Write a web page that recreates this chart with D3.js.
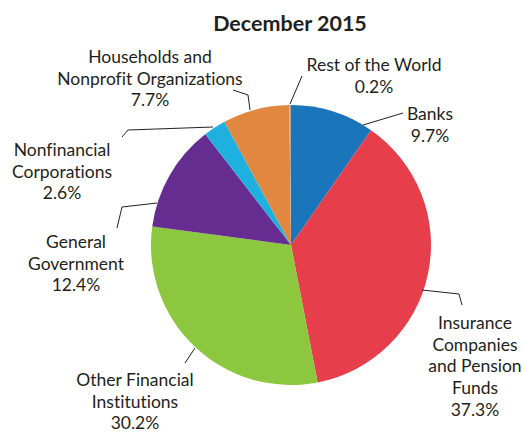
<!DOCTYPE html>
<html>
<head>
<meta charset="utf-8">
<script src="https://cdn.jsdelivr.net/npm/d3@7"></script>
<style>
  html, body { margin: 0; padding: 0; background: #fff; }
  svg { display: block; }
  text { font-family: Lato, "Open Sans", sans-serif; fill: #231f20; font-variant-ligatures: none; font-feature-settings: "liga" 0, "dlig" 0; }
</style>
</head>
<body>
<svg id="chart" width="523" height="432"></svg>
<script>
// Holdings by sector, December 2015 (percent), clockwise from 12 o'clock
const sectors = [
  "Banks",
  "Insurance Companies and Pension Funds",
  "Other Financial Institutions",
  "General Government",
  "Nonfinancial Corporations",
  "Households and Nonprofit Organizations",
  "Rest of the World"
];
const shares = [9.7, 37.3, 30.2, 12.4, 2.6, 7.7, 0.2];
const labelLines = [
  ["Banks"],
  ["Insurance", "Companies", "and Pension", "Funds"],
  ["Other Financial", "Institutions"],
  ["General", "Government"],
  ["Nonfinancial", "Corporations"],
  ["Households and", "Nonprofit Organizations"],
  ["Rest of the World"]
];
const sliceColors = ["#1b75bb", "#e63e4a", "#8dc63f", "#662d91", "#1eb1e0", "#e0883f", "#a7a9ac"];

// Layout: label anchor (centre x, first baseline) and leader polylines
const cx = 291, cy = 245, radius = 140, lineH = 21.7;
const labelPos = [
  [430, 120], [475, 329], [135, 386], [76, 248], [62, 156], [150, 63], [374, 71]
];
const leaders = [
  [[403, 113], [363, 125]],
  [[462, 305], [459, 294], [422, 290]],
  [[185, 363], [195, 348]],
  [[117, 228], [122, 207], [157, 203]],
  [[122, 137], [128, 130], [213, 127]],
  [[233, 90], [248, 95], [250, 110]],
  [[302, 76], [290, 104]]
];

const svg = d3.select("#chart");

svg.append("text")
  .attr("x", 290).attr("y", 31)
  .attr("text-anchor", "middle")
  .style("font-size", "21.5px").style("font-weight", "bold")
  .text("December 2015");

const pie = d3.pie().sort(null).value(d => d)(shares);
const arc = d3.arc().innerRadius(0).outerRadius(radius);
const color = d3.scaleOrdinal().domain(sectors).range(sliceColors);

const g = svg.append("g").attr("transform", `translate(${cx},${cy})`);
g.selectAll("path").data(pie).join("path")
  .attr("d", arc)
  .attr("fill", (d, i) => color(sectors[i]));

// Leader lines
svg.selectAll("polyline.leader").data(leaders).join("polyline")
  .attr("class", "leader")
  .attr("points", d => d.map(p => p.join(",")).join(" "))
  .attr("fill", "none").attr("stroke", "#231f20").attr("stroke-width", 1);

// Labels with value line
sectors.forEach((s, i) => {
  const [lx, ly] = labelPos[i];
  const t = svg.append("text")
    .attr("text-anchor", "middle")
    .style("font-size", "17.5px");
  const lines = labelLines[i].concat([d3.format(".1f")(shares[i]) + "%"]);
  lines.forEach((ln, k) => {
    t.append("tspan").attr("x", lx).attr("y", ly + k * lineH).text(ln);
  });
});
</script>
</body>
</html>
